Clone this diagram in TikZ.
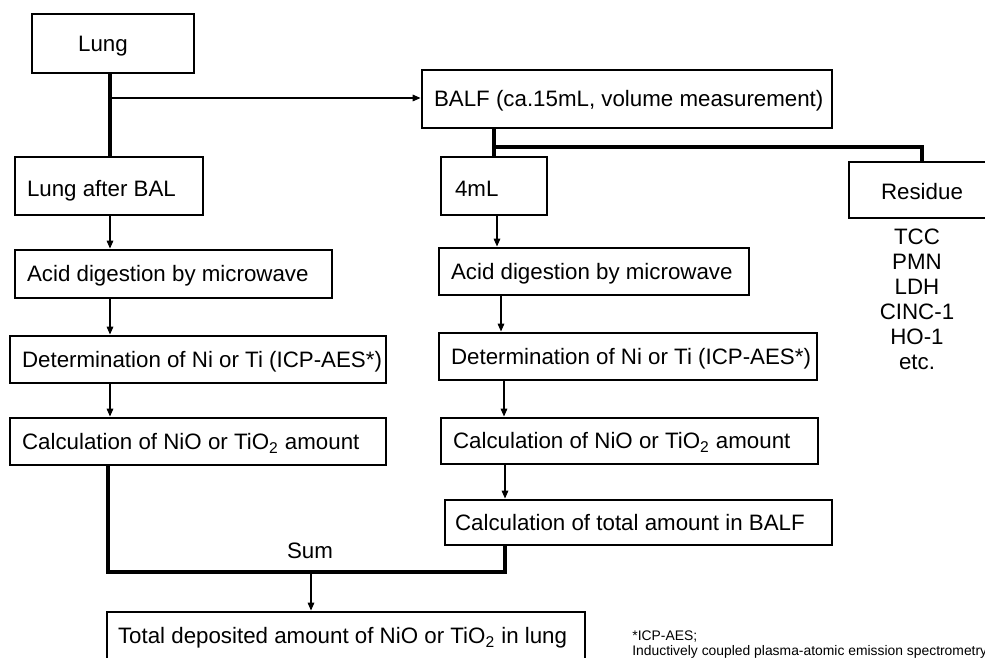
\documentclass[tikz,border=0pt]{standalone}
\usepackage{fontspec}
\setmainfont{Liberation Sans}
\usetikzlibrary{arrows.meta}
\newcommand\lbtext[2]{\makebox[#1][l]{#2}}
\begin{document}
\begin{tikzpicture}[x=0.02cm,y=-0.02cm,
  box/.style={draw, line width=1.6pt, inner sep=0pt, text height=9.1pt, text depth=0pt, font=\fontsize{12.7}{15}\selectfont},
  lbox/.style={box, inner xsep=0.24cm},
  plain/.style={inner sep=0pt, font=\fontsize{12.7}{15}\selectfont},
  thickline/.style={line width=2pt},
  arr/.style={line width=0.9pt, -{Triangle[length=0.16cm,width=0.13cm]}},
  note/.style={inner sep=0pt, font=\fontsize{7.9}{9}\selectfont, anchor=base west}]
\useasboundingbox (0,0) rectangle (985,658);
% boxes
\node[box, minimum width=3.24cm, minimum height=1.18cm] (lung) at (113,43.5) {\hspace*{-0.4cm}Lung};
\node[lbox, minimum width=8.2cm, minimum height=1.16cm] (balf) at (627,99) {\lbtext{7.72cm}{BALF (ca.15mL, volume measurement)}};
\node[lbox, minimum width=3.76cm, minimum height=1.16cm, text height=12.4pt] (lab) at (109,186) {\lbtext{3.28cm}{Lung after BAL}};
\node[box, inner xsep=0.28cm, minimum width=2.12cm, minimum height=1.16cm, text height=12.4pt] (ml4) at (494,186) {\lbtext{1.56cm}{4mL}};
\node[box, minimum width=2.92cm, minimum height=1.12cm, text height=11pt] (res) at (922,190) {Residue};
\node[plain, align=center, font=\fontsize{12.7}{14.2}\selectfont, anchor=north] (list) at (917,229) {TCC\\PMN\\LDH\\CINC-1\\HO-1\\etc.};
% left column
\node[lbox, minimum width=6.34cm, minimum height=0.96cm] (acl) at (173.5,274) {\lbtext{5.86cm}{Acid digestion by microwave}};
\node[lbox, minimum width=7.52cm, minimum height=0.94cm] (detl) at (198,359.5) {\lbtext{7.04cm}{Determination of Ni or Ti (ICP-AES*)}};
\node[lbox, minimum width=7.52cm, minimum height=0.94cm] (call) at (198,441.5) {\lbtext{7.04cm}{Calculation of NiO or TiO\textsubscript{2} amount}};
% right column
\node[lbox, minimum width=6.2cm, minimum height=0.94cm] (acr) at (594,271.5) {\lbtext{5.72cm}{Acid digestion by microwave}};
\node[lbox, minimum width=7.56cm, minimum height=0.94cm] (detr) at (628,356.5) {\lbtext{7.08cm}{Determination of Ni or Ti (ICP-AES*)}};
\node[lbox, minimum width=7.54cm, minimum height=0.92cm] (calr) at (629.5,441) {\lbtext{7.06cm}{Calculation of NiO or TiO\textsubscript{2} amount}};
\node[box, inner xsep=0.2cm, minimum width=7.74cm, minimum height=0.9cm] (tot) at (638.5,522.5) {\lbtext{7.34cm}{Calculation of total amount in BALF}};
% total
\node[box, inner xsep=0.22cm, minimum width=9.56cm, minimum height=0.96cm] (total) at (346,636) {\lbtext{9.12cm}{Total deposited amount of NiO or TiO\textsubscript{2} in lung}};
\node[plain] (sum) at (310,551) {Sum};
% footnote
\node[note] (fn1) at (632,641) {*ICP-AES;};
\node[note] (fn2) at (632,656) {Inductively coupled plasma-atomic emission spectrometry};
% connectors
\draw[thickline] (lung.south -| 110,0) -- (lab.north -| 110,0);
\coordinate (branch) at (110,98);
\draw[arr] (branch) -- (branch -| balf.west);
\draw[thickline] (balf.south -| ml4.north) -- (ml4.north);
\coordinate (split) at (494,147);
\draw[thickline] (split) -| (res.north);
% left arrows
\draw[arr] (lab.south -| 110,0) -- (acl.north -| 110,0);
\draw[arr] (acl.south -| 110,0) -- (detl.north -| 110,0);
\draw[arr] (detl.south -| 110,0) -- (call.north -| 110,0);
% right arrows
\draw[arr] (ml4.south -| 497,0) -- (acr.north -| 497,0);
\draw[arr] (acr.south -| 501,0) -- (detr.north -| 501,0);
\draw[arr] (detr.south -| 504,0) -- (calr.north -| 504,0);
\draw[arr] (calr.south -| 505,0) -- (tot.north -| 505,0);
% sum
\coordinate (sumc) at (311,572);
\draw[thickline] (call.south -| 108,0) |- (505,572) -- (tot.south -| 505,0);
\draw[arr] (sumc) -- (sumc |- total.north);
\end{tikzpicture}
\end{document}
